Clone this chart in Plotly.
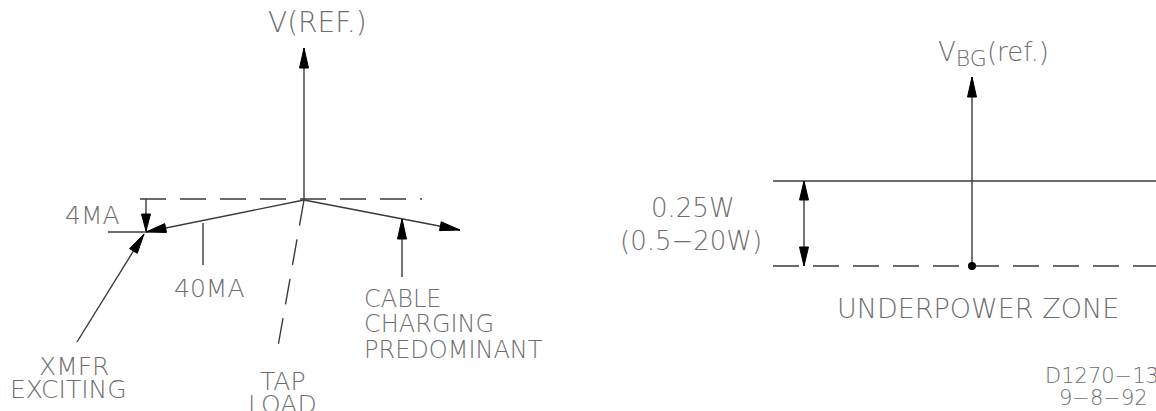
import numpy as np
import plotly.graph_objects as go

# ---------------- geometry of the drawing (drawing units, y grows downward) -------------
# Left diagram : phasor diagram around V(REF.)
left_origin = [304, 200]
ref_axis_tip = [304, 48]
left_ref_line_x = [140, 422]
left_ref_line_y = [199, 199]
xmfr_vector_tip = [146, 232]
cable_vector_tip = [460, 230]
tap_load_end = [277, 352]
ma4_dim_line = [[146, 199], [146, 231]]
ma4_ext_line = [[108, 232], [146, 232]]
xmfr_leader = [[77, 342], [144, 234]]
ma40_leader = [[203, 223], [203, 265]]
cable_leader = [[402, 277], [402, 219]]

# Right diagram : underpower zone
right_origin = [972, 266]
bg_axis_tip = [972, 77]
zone_line_x = [773, 1156]
threshold_y = 181
zone_y = 266
dim_x = 804

# Text labels: text, x, y, anchor, size
labels = [
    ("V(REF.)", 317, 22, "center", 28),
    ("4MA", 92, 215, "center", 25),
    ("40MA", 209, 288, "center", 25),
    ("CABLE", 362, 299, "left", 24),
    ("CHARGING", 362, 324, "left", 24),
    ("PREDOMINANT", 362, 350, "left", 24),
    ("XMFR", 74, 366, "center", 25),
    ("EXCITING", 68, 389, "center", 25),
    ("TAP", 283, 381, "center", 25),
    ("LOAD", 282, 404, "center", 25),
    ("V<sub><span style='font-size:22px'>BG</span></sub>(ref.)", 936, 54, "left", 26),
    ("0.25W", 693, 208, "center", 26),
    ("(0.5\u221220W)", 691, 241, "center", 26),
    ("UNDERPOWER ZONE", 978, 308, "center", 27),
    ("D1270\u221213", 1102, 376, "center", 21),
    ("9\u22128\u221292", 1103, 398, "center", 21),
]

W, H = 1156, 411
LINE = "#3a3a3a"
TEXT = "#6e6e6e"
DASH = "26px,14px"

fig = go.Figure()


def seg(p0, p1, dash=None, width=1.4, color=LINE):
    fig.add_trace(go.Scatter(
        x=[p0[0], p1[0]], y=[p0[1], p1[1]], mode="lines",
        line=dict(color=color, width=width, dash=dash),
        hoverinfo="skip", showlegend=False))


def head(tip, tail, length=20, width=9):
    tip = np.array(tip, float)
    tail = np.array(tail, float)
    u = (tip - tail) / np.linalg.norm(tip - tail)
    n = np.array([-u[1], u[0]])
    base = tip - length * u
    pts = [tip, base + n * width / 2, base - n * width / 2, tip]
    fig.add_trace(go.Scatter(
        x=[p[0] for p in pts], y=[p[1] for p in pts], mode="lines",
        fill="toself", fillcolor="#000000", line=dict(color="#000000", width=1),
        hoverinfo="skip", showlegend=False))


# ---- left diagram ----
seg(left_origin, ref_axis_tip)
head(ref_axis_tip, left_origin)
seg([left_ref_line_x[0], left_ref_line_y[0]], [left_ref_line_x[1], left_ref_line_y[1]], dash=DASH)
seg(left_origin, xmfr_vector_tip)
head(xmfr_vector_tip, left_origin)
seg(left_origin, cable_vector_tip)
head(cable_vector_tip, left_origin)
seg(left_origin, tap_load_end, dash=DASH)
seg(*ma4_dim_line)
head(ma4_dim_line[1], ma4_dim_line[0], length=17)
seg(*ma4_ext_line)
seg(*xmfr_leader)
head(xmfr_leader[1], xmfr_leader[0])
seg(*ma40_leader)
seg(*cable_leader)
head(cable_leader[1], cable_leader[0])

# ---- right diagram ----
seg(right_origin, bg_axis_tip)
head(bg_axis_tip, right_origin)
seg([zone_line_x[0], threshold_y], [zone_line_x[1], threshold_y])
seg([zone_line_x[0], zone_y], [zone_line_x[1], zone_y], dash=DASH)
seg([dim_x, threshold_y], [dim_x, zone_y])
head([dim_x, threshold_y], [dim_x, zone_y], length=19)
head([dim_x, zone_y], [dim_x, threshold_y], length=19)
fig.add_trace(go.Scatter(x=[right_origin[0]], y=[right_origin[1]], mode="markers",
                         marker=dict(color="#000000", size=8),
                         hoverinfo="skip", showlegend=False))

for text, x, y, anchor, size in labels:
    fig.add_annotation(x=x, y=y, xref="x", yref="y", text=text, showarrow=False,
                       xanchor=anchor, yanchor="middle",
                       font=dict(family="DejaVu Sans", size=size, color=TEXT, weight=200))

fig.update_layout(
    width=W, height=H, margin=dict(l=0, r=0, t=0, b=0),
    paper_bgcolor="white", plot_bgcolor="white", showlegend=False,
    xaxis=dict(range=[0, W], visible=False, fixedrange=True),
    yaxis=dict(range=[H, 0], visible=False, fixedrange=True),
)

fig.write_html(
    "out.html",
    config={"displayModeBar": False},
    post_script="document.body.style.margin='0';document.body.style.overflow='hidden';",
)
